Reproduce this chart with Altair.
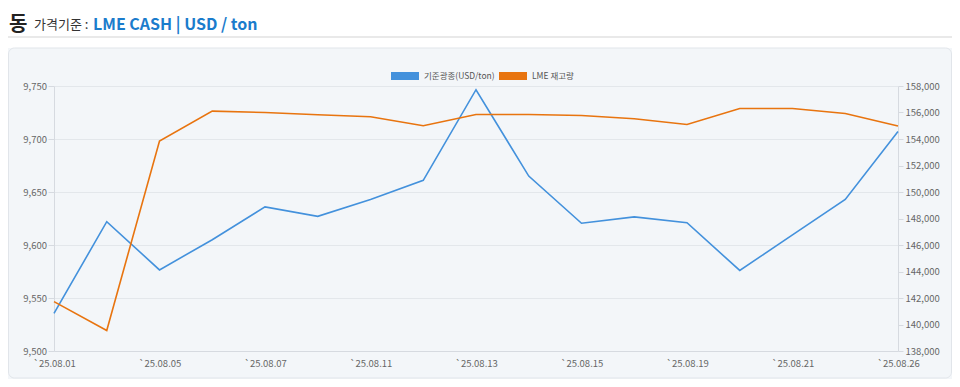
import altair as alt
import pandas as pd

# ---- data ----
dates = ["`25.08.01", "`25.08.04", "`25.08.05", "`25.08.06", "`25.08.07", "`25.08.08",
         "`25.08.11", "`25.08.12", "`25.08.13", "`25.08.14", "`25.08.15", "`25.08.18",
         "`25.08.19", "`25.08.20", "`25.08.21", "`25.08.22", "`25.08.26"]
price = [9535.5, 9622, 9576.5, 9605, 9636, 9627, 9643, 9661, 9746.5, 9665, 9620.5,
         9626.5, 9621, 9576, 9609.5, 9643, 9707]
stock = [141725, 139550, 153850, 156100, 156000, 155825, 155675, 155000, 155850, 155850,
         155775, 155525, 155100, 156300, 156300, 155925, 154975]
series_names = ["기준광종(USD/ton)", "LME 재고량"]
series_colors = ["#4391dc", "#e8740f"]
left_ticks = [9500, 9550, 9600, 9650, 9700, 9750]
right_ticks = [138000, 140000, 142000, 144000, 146000, 148000, 150000, 152000, 154000,
               156000, 158000]
x_label_dates = dates[::2]

FONT = "Noto Sans CJK KR"
W, H = 844, 265
AX_GRAY = "#d6dae0"
LBL = "#666666"

df_p = pd.DataFrame({"date": dates, "value": price, "series": series_names[0]})
df_s = pd.DataFrame({"date": dates, "value": stock, "series": series_names[1]})
one = pd.DataFrame({"k": [0]})

color = alt.Color(
    "series:N",
    scale=alt.Scale(domain=series_names, range=series_colors),
    legend=alt.Legend(
        title=None, orient="none", legendX=333, legendY=-28, direction="horizontal",
        symbolType="M-1,0H1", symbolSize=784, symbolStrokeWidth=8,
        labelFontSize=8.5, labelColor="#555555", labelFont=FONT,
        labelOffset=1, columnPadding=-16, padding=0,
    ),
)

x = alt.X(
    "date:O", sort=dates,
    scale=alt.Scale(type="point", padding=0),
    axis=alt.Axis(title=None, values=x_label_dates, labelAngle=0, ticks=False, grid=False,
                  domainColor=AX_GRAY, labelColor=LBL, labelFontSize=9.5, labelPadding=7,
                  labelFont=FONT),
)

line_p = alt.Chart(df_p).mark_line(strokeWidth=1.6).encode(
    x=x,
    y=alt.Y("value:Q", scale=alt.Scale(domain=[9500, 9750], nice=False, zero=False),
            axis=alt.Axis(title=None, values=left_ticks, format=",.0f", grid=True,
                          gridColor="#e3e7eb", domainColor=AX_GRAY, tickColor=AX_GRAY,
                          tickSize=6, labelPadding=1.5, labelColor=LBL, labelFontSize=9.5,
                          labelFont=FONT)),
    color=color,
)

line_s = alt.Chart(df_s).mark_line(strokeWidth=1.6).encode(
    x=x,
    y=alt.Y("value:Q", scale=alt.Scale(domain=[138000, 158000], nice=False, zero=False),
            axis=alt.Axis(title=None, orient="right", values=right_ticks, format=",.0f",
                          grid=False, domainColor=AX_GRAY, tickColor=AX_GRAY, tickSize=5,
                          labelPadding=2, labelColor=LBL, labelFontSize=9.5,
                          labelFont=FONT)),
    color=color,
)

# ---- decorations (header area, panel border) ----
header_bg = alt.Chart(one).mark_rect(color="white").encode(
    x=alt.value(-46), x2=alt.value(898), y=alt.value(-78), y2=alt.value(-38))

panel_border = alt.Chart(one).mark_rect(fillOpacity=0, stroke="#e1e5ea", strokeWidth=1,
                                        cornerRadius=6).encode(
    x=alt.value(-45.5), x2=alt.value(897.5), y=alt.value(-38), y2=alt.value(292))

header_rule = alt.Chart(one).mark_rule(color="#e2e2e2", strokeWidth=1.5).encode(
    x=alt.value(-46), x2=alt.value(898), y=alt.value(-49))

t_main = alt.Chart(one).mark_text(align="left", baseline="alphabetic", font=FONT,
                                  fontSize=20, fontWeight="bold", color="#222222").encode(
    x=alt.value(-45), y=alt.value(-55), text=alt.value("동"))

t_sub = alt.Chart(one).mark_text(align="left", baseline="alphabetic", font=FONT,
                                 fontSize=13, color="#333333").encode(
    x=alt.value(-20), y=alt.value(-57), text=alt.value("가격기준 :"))

t_unit = alt.Chart(one).mark_text(align="left", baseline="alphabetic", font=FONT,
                                  fontSize=16, fontWeight="bold", color="#1b7ccc").encode(
    x=alt.value(39), y=alt.value(-56), text=alt.value("LME CASH | USD / ton"))

chart = alt.layer(
    line_p, line_s, header_bg, panel_border, header_rule, t_main, t_sub, t_unit
).resolve_scale(y="independent").properties(
    width=W, height=H,
    autosize=alt.AutoSizeParams(type="none"),
    padding={"left": 46, "top": 78, "right": 54, "bottom": 28},
    background="#f3f6f9",
).configure_view(stroke=None)

chart.save("out.html", embed_options={"renderer": "svg", "actions": False})
